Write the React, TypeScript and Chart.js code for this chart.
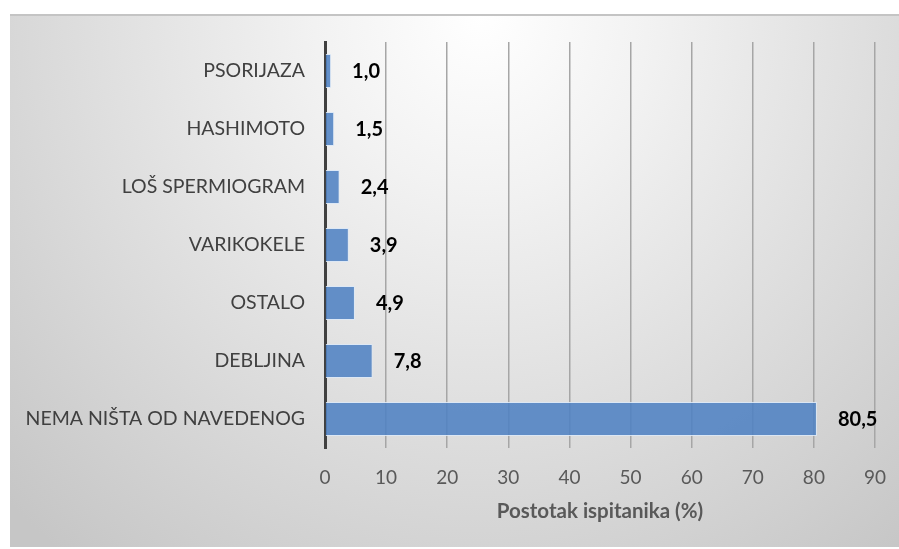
import React, { useEffect, useRef } from "react";
import { Chart, registerables } from "chart.js";

Chart.register(...registerables);

const categories = [
  "PSORIJAZA",
  "HASHIMOTO",
  "LOŠ SPERMIOGRAM",
  "VARIKOKELE",
  "OSTALO",
  "DEBLJINA",
  "NEMA NIŠTA OD NAVEDENOG",
];
const values = [1.0, 1.5, 2.4, 3.9, 4.9, 7.8, 80.5];
const xMin = 0;
const xMax = 90;
const xStep = 10;
const xTitle = "Postotak ispitanika (%)";

const FONT = "Lato, 'Open Sans', sans-serif";

const valueLabels = {
  id: "valueLabels",
  afterDatasetsDraw(chart: any) {
    const ctx = chart.ctx;
    const meta = chart.getDatasetMeta(0);
    ctx.save();
    ctx.font = `bold 20px ${FONT}`;
    ctx.fillStyle = "#000000";
    ctx.textAlign = "left";
    ctx.textBaseline = "middle";
    meta.data.forEach((bar: any, i: number) => {
      const v = chart.data.datasets[0].data[i] as number;
      ctx.fillText(v.toFixed(1).replace(".", ","), bar.x + 21, bar.y + 1);
    });
    ctx.restore();
  },
};

export default function App() {
  const ref = useRef<HTMLCanvasElement | null>(null);

  useEffect(() => {
    if (!ref.current) return;
    const chart = new Chart(ref.current, {
      type: "bar",
      data: {
        labels: categories,
        datasets: [
          {
            data: values,
            backgroundColor: "rgba(80,130,195,0.88)",
            borderColor: "rgba(220,232,246,0.9)",
            borderWidth: 1,
            categoryPercentage: 1,
            barPercentage: 0.59,
          },
        ],
      },
      options: {
        indexAxis: "y",
        animation: false,
        responsive: false,
        maintainAspectRatio: false,
        layout: { padding: { top: 26, right: 24, left: 0, bottom: 0 } },
        plugins: {
          legend: { display: false },
          tooltip: { enabled: false },
        },
        scales: {
          x: {
            min: xMin,
            max: xMax,
            ticks: {
              stepSize: xStep,
              color: "#595959",
              font: { family: FONT, size: 19 },
              padding: 18,
            },
            grid: {
              color: "#a6a6a6",
              lineWidth: 1.5,
              drawTicks: false,
            },
            border: { display: false },
            title: {
              display: true,
              text: xTitle,
              color: "#595959",
              font: { family: FONT, size: 20.5, weight: "bold" },
              padding: { top: 0, bottom: 23 },
            },
            afterFit(scale: any) {
              scale.height = 99;
              scale.paddingLeft = 0;
              scale.paddingRight = 0;
            },
          },
          y: {
            ticks: {
              color: "#404040",
              font: { family: FONT, size: 19.5 },
              padding: 20,
            },
            grid: { display: false, drawTicks: false },
            border: { display: true, color: "#404040", width: 3 },
            afterFit(scale: any) {
              scale.width = 315;
              scale.paddingTop = 0;
              scale.paddingBottom = 0;
            },
          },
        },
      },
      plugins: [valueLabels],
    });
    return () => chart.destroy();
  }, []);

  return (
    <div
      style={{
        position: "absolute",
        left: 10,
        top: 14,
        width: 889,
        height: 531,
        borderTop: "2px solid #c4c4c4",
        background:
          "radial-gradient(ellipse 75% 130% at 53% 0%, #ffffff 0%, #f2f2f2 25%, #c6c6c6 100%)",
      }}
    >
      <canvas ref={ref} width={889} height={531} style={{ display: "block" }} />
    </div>
  );
}
